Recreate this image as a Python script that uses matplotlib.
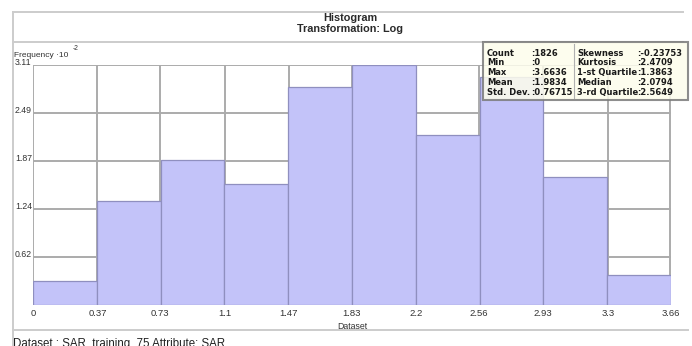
import numpy as np
import matplotlib
matplotlib.use("Agg")
import matplotlib.pyplot as plt
from matplotlib.lines import Line2D
from matplotlib.patches import Rectangle
from matplotlib.transforms import blended_transform_factory

# histogram of log-transformed SAR values
data_max = 3.6636
freq = [0.31, 1.35, 1.88, 1.57, 2.82, 3.11, 2.20, 2.95, 1.66, 0.39]  # x 10^-2
x_ticks = [0, 0.37, 0.73, 1.1, 1.47, 1.83, 2.2, 2.56, 2.93, 3.3, 3.66]
x_tick_labels = ["0", "0.37", "0.73", "1.1", "1.47", "1.83", "2.2", "2.56", "2.93", "3.3", "3.66"]
y_ticks = [0.62, 1.24, 1.87, 2.49, 3.11]
y_tick_labels = ["0.62", "1.24", "1.87", "2.49", "3.11"]

stats_left = [("Count", "1826"), ("Min", "0"), ("Max", "3.6636"),
              ("Mean", "1.9834"), ("Std. Dev.", "0.76715")]
stats_right = [("Skewness", "-0.23753"), ("Kurtosis", "2.4709"),
               ("1-st Quartile", "1.3863"), ("Median", "2.0794"),
               ("3-rd Quartile", "2.5649")]

W, H = 692, 346
plt.rcParams["font.family"] = ["Liberation Sans", "DejaVu Sans"]

fig = plt.figure(figsize=(W / 100, H / 100), dpi=100)
fig.patch.set_facecolor("white")


def fx(px):
    return px / W


def fy(py):
    return 1 - py / H


ax = fig.add_axes([fx(33), fy(305), fx(671) - fx(33), fy(65) - fy(305)])
ax.set_xlim(0, data_max)
ax.set_ylim(0, 3.11)
for s in ax.spines.values():
    s.set_visible(False)

grid_c = "#ababab"
for t in x_ticks:
    ax.axvline(min(t, data_max), color=grid_c, lw=1.4, zorder=1)
for t in [0] + y_ticks:
    ax.axhline(t, color=grid_c, lw=1.4, zorder=1)

edges = np.linspace(0, data_max, len(freq) + 1)
ax.bar(edges[:-1], freq, width=np.diff(edges), align="edge",
       color="#c3c3f9", edgecolor="#8f8fbf", linewidth=0.9, zorder=2)

ax.set_xticks(x_ticks)
ax.set_xticklabels(x_tick_labels, fontsize=6.8, color="#333333")
ax.tick_params(axis="x", length=0, pad=3)
ax.set_yticks([])
ax.set_xlabel("Dataset", fontsize=6.3, color="#333333", labelpad=2.5)

# y labels sit left-aligned on top of their grid lines
ytr = blended_transform_factory(fig.transFigure, ax.transData)
for v, lab in zip(y_ticks, y_tick_labels):
    ax.text(fx(15), v, lab, transform=ytr, ha="left", va="baseline",
            fontsize=6.3, color="#333333", clip_on=False)

fig.text(fx(14), fy(57), "Frequency \u00b710", ha="left", va="baseline",
         fontsize=6, color="#333333")
fig.text(fx(73), fy(49), "-2", ha="left", va="center", fontsize=4.8,
         color="#333333")

# frame lines around the chart
frame_c = "#cccccc"
for (x0, y0, x1, y1) in [(13, 12, 683, 12), (13, 42, 683, 42),
                         (13, 330, 688, 330), (13, 12, 13, 346)]:
    fig.add_artist(Line2D([fx(x0), fx(x1)], [fy(y0), fy(y1)],
                          color=frame_c, lw=1.4))

fig.text(fx(350), fy(21), "Histogram", ha="center", va="baseline",
         fontsize=7.8, fontweight="bold", color="#2a2a2a")
fig.text(fx(350), fy(32), "Transformation: Log", ha="center", va="baseline",
         fontsize=7.8, fontweight="bold", color="#2a2a2a")

fig.text(fx(13), fy(346.5), "Dataset : SAR_training_75 Attribute: SAR",
         ha="left", va="baseline", fontsize=8.3, color="#222222")

# statistics box
fig.add_artist(Rectangle((fx(483), fy(100)), fx(688) - fx(483), fy(42) - fy(100),
                         transform=fig.transFigure, facecolor="#fdfdec",
                         alpha=0.85, edgecolor="#7a7a7a", lw=1.5, zorder=5))
fig.add_artist(Line2D([fx(574), fx(574)], [fy(44), fy(98)], color="#b0b0b0",
                      lw=0.8, zorder=6))
box_font = dict(fontsize=6, fontweight="bold", color="#1a1a1a",
                family="DejaVu Sans", va="center", ha="left", zorder=7)
for i, (lab, val) in enumerate(stats_left):
    yy = fy(53 + 9.9 * i)
    fig.text(fx(487), yy, lab, **box_font)
    fig.text(fx(531), yy, ":" + val, **box_font)
for i, (lab, val) in enumerate(stats_right):
    yy = fy(53 + 9.9 * i)
    fig.text(fx(577), yy, lab, **box_font)
    fig.text(fx(637), yy, ":" + val, **box_font)

fig.savefig("out.png", dpi=100)
